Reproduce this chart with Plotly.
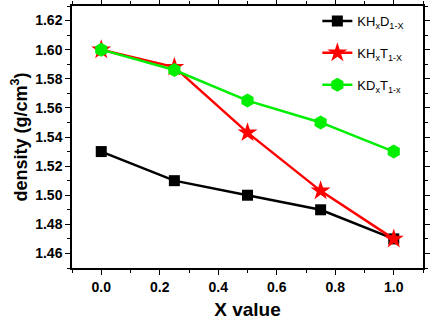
import plotly.graph_objects as go

x_vals = [0.0, 0.25, 0.5, 0.75, 1.0]
khd = [1.53, 1.51, 1.50, 1.49, 1.47]
kht = [1.60, 1.588, 1.543, 1.503, 1.47]
kdt = [1.60, 1.586, 1.565, 1.550, 1.53]
names = ["KH<sub>x</sub>D<sub>1-X</sub>", "KH<sub>x</sub>T<sub>1-X</sub>", "KD<sub>x</sub>T<sub>1-x</sub>"]

FONT = "Liberation Sans, Arial, sans-serif"

fig = go.Figure()
fig.add_trace(go.Scatter(x=x_vals, y=khd, name=names[0], mode="lines+markers",
                         line=dict(color="black", width=2.5),
                         marker=dict(symbol="square", size=11, color="black"),
                         legendgroup="a"))
fig.add_trace(go.Scatter(x=x_vals, y=kht, name=names[1], mode="lines+markers",
                         line=dict(color="#ff0000", width=2.5),
                         marker=dict(symbol="star", size=15, color="#ff0000"),
                         legendgroup="b"))
fig.add_trace(go.Scatter(x=x_vals, y=kdt, name=names[2], mode="lines+markers",
                         line=dict(color="#00ee00", width=2.5),
                         marker=dict(symbol="hexagon", size=14, color="#00ee00"),
                         legendgroup="c"))

axis_common = dict(showline=True, linecolor="#000000", linewidth=1.5, mirror="allticks",
                   ticks="outside", ticklen=5, tickwidth=1.2, tickcolor="black",
                   showgrid=False, zeroline=False, automargin=False,
                   tickfont=dict(family=FONT, size=14, color="black", weight="bold"))

fig.update_xaxes(range=[-0.1, 1.1], dtick=0.2, tick0=0, tickformat=".1f",
                 minor=dict(dtick=0.1, ticks="outside", ticklen=3, tickcolor="black", tickwidth=1),
                 title=dict(text="<b>X value</b>", font=dict(family=FONT, size=19, color="black"), standoff=12),
                 **axis_common)
fig.update_yaxes(range=[1.45, 1.63], dtick=0.02, tick0=1.46, tickformat=".2f",
                 minor=dict(dtick=0.01, ticks="outside", ticklen=3, tickcolor="black", tickwidth=1),
                 title=dict(text="<b>density (g/cm<sup>3</sup>)</b>", font=dict(family=FONT, size=18, color="black"), standoff=3),
                 **axis_common)

fig.update_layout(
    width=430, height=320,
    margin=dict(l=72, r=7, t=6, b=52),
    paper_bgcolor="white", plot_bgcolor="white",
    legend=dict(x=0.699, y=1.0, xanchor="left", yanchor="top",
                font=dict(family=FONT, size=13, color="black"),
                bgcolor="rgba(0,0,0,0)", tracegroupgap=12, itemwidth=30),
    showlegend=True,
)

fig.write_html("out.html", config={"displayModeBar": False},
               post_script="document.body.style.margin='0';document.body.style.padding='0';")
